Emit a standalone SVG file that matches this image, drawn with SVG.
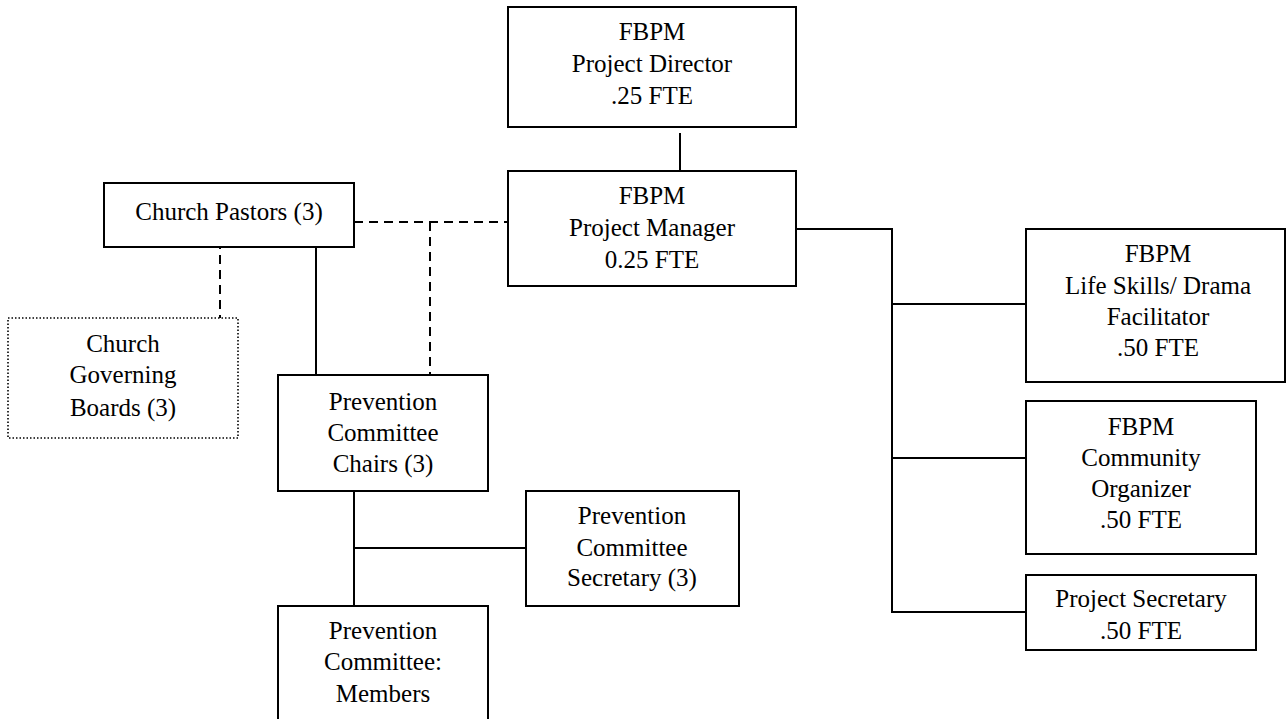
<svg xmlns="http://www.w3.org/2000/svg" width="1286" height="719" viewBox="0 0 1286 719">
<style>
.box{fill:#fff;stroke:#000;stroke-width:2}
.dot{fill:#fff;stroke:#000;stroke-width:1.6;stroke-dasharray:1.5 2}
.ln{fill:none;stroke:#000;stroke-width:2}
.dash{fill:none;stroke:#000;stroke-width:2;stroke-dasharray:9 6}
.t{font-family:"Times New Roman",Tinos,"Liberation Serif","Noto Serif","Nimbus Roman","FreeSerif","DejaVu Serif",serif;font-size:25px;fill:#000;text-anchor:middle}
</style>
<rect width="1286" height="719" fill="#fff"/>
<g id="connectors">
<line class="ln" x1="680" y1="133" x2="680" y2="171"/>
<polyline class="ln" points="796,229 892,229 892,612 1026,612"/>
<line class="ln" x1="892" y1="304" x2="1026" y2="304"/>
<line class="ln" x1="892" y1="458" x2="1026" y2="458"/>
<line class="dash" x1="354" y1="222" x2="508" y2="222"/>
<line class="dash" x1="430" y1="222" x2="430" y2="375"/>
<line class="dash" x1="220" y1="240" x2="220" y2="318"/>
<line class="ln" x1="316" y1="240" x2="316" y2="375"/>
<line class="ln" x1="354" y1="491" x2="354" y2="606"/>
<line class="ln" x1="354" y1="548" x2="526" y2="548"/>
</g>
<g id="director">
<rect class="box" x="508" y="7" width="288" height="120"/>
<text class="t" x="652" y="40">FBPM</text>
<text class="t" x="652" y="72">Project Director</text>
<text class="t" x="652" y="104">.25 FTE</text>
</g>
<g id="manager">
<rect class="box" x="508" y="171" width="288" height="115"/>
<text class="t" x="652" y="204">FBPM</text>
<text class="t" x="652" y="236">Project Manager</text>
<text class="t" x="652" y="268">0.25 FTE</text>
</g>
<g id="pastors">
<rect class="box" x="104" y="183" width="250" height="64"/>
<text class="t" x="229" y="220">Church Pastors (3)</text>
</g>
<g id="boards">
<rect class="dot" x="8" y="318" width="230" height="120"/>
<text class="t" x="123" y="352">Church</text>
<text class="t" x="123" y="383">Governing</text>
<text class="t" x="123" y="416">Boards (3)</text>
</g>
<g id="chairs">
<rect class="box" x="278" y="375" width="210" height="116"/>
<text class="t" x="383" y="410">Prevention</text>
<text class="t" x="383" y="441">Committee</text>
<text class="t" x="383" y="472">Chairs (3)</text>
</g>
<g id="psecretary">
<rect class="box" x="526" y="491" width="213" height="115"/>
<text class="t" x="632" y="524">Prevention</text>
<text class="t" x="632" y="556">Committee</text>
<text class="t" x="632" y="586">Secretary (3)</text>
</g>
<g id="members">
<rect class="box" x="278" y="606" width="210" height="125"/>
<text class="t" x="383" y="639">Prevention</text>
<text class="t" x="383" y="670">Committee:</text>
<text class="t" x="383" y="702">Members</text>
</g>
<g id="lifeskills">
<rect class="box" x="1026" y="229" width="259" height="153"/>
<text class="t" x="1158" y="262">FBPM</text>
<text class="t" x="1158" y="294">Life Skills/ Drama</text>
<text class="t" x="1158" y="325">Facilitator</text>
<text class="t" x="1158" y="356">.50 FTE</text>
</g>
<g id="organizer">
<rect class="box" x="1026" y="401" width="230" height="153"/>
<text class="t" x="1141" y="435">FBPM</text>
<text class="t" x="1141" y="466">Community</text>
<text class="t" x="1141" y="497">Organizer</text>
<text class="t" x="1141" y="528">.50 FTE</text>
</g>
<g id="projsecretary">
<rect class="box" x="1026" y="575" width="230" height="75"/>
<text class="t" x="1141" y="607">Project Secretary</text>
<text class="t" x="1141" y="639">.50 FTE</text>
</g>
</svg>
